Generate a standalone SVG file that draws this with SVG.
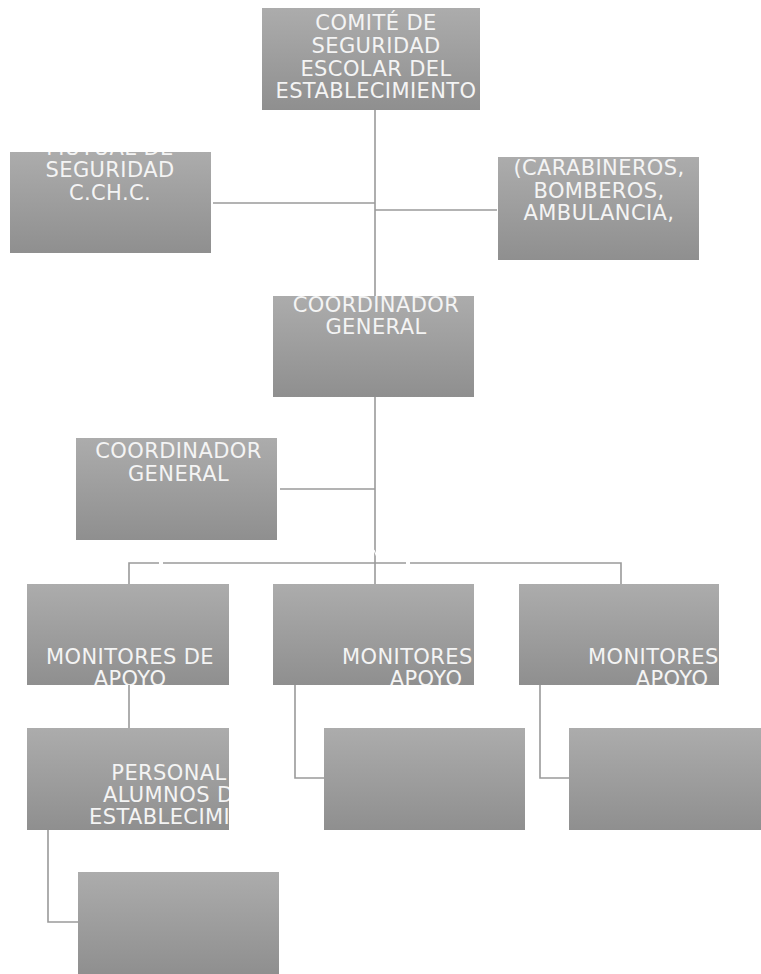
<svg xmlns="http://www.w3.org/2000/svg" width="761" height="974" viewBox="0 0 761 974">
<style>
.box{fill:url(#g)}
.t{font-family:"DejaVu Sans","Verdana",sans-serif;font-size:21px;letter-spacing:0.4px;fill:#f4f4f4;text-anchor:middle}
.ts{font-family:"DejaVu Sans","Verdana",sans-serif;font-size:21px;letter-spacing:0.4px;fill:#f4f4f4;text-anchor:start}
.c{stroke:#9a9a9a;stroke-width:1.6;fill:none}
</style>
<defs>
<linearGradient id="g" x1="0" y1="0" x2="0" y2="1">
<stop offset="0" stop-color="#acacac"/>
<stop offset="1" stop-color="#8f8f8f"/>
</linearGradient>
<clipPath id="c1"><rect x="262" y="8" width="218" height="102"/></clipPath>
<clipPath id="c2"><rect x="10" y="152" width="201" height="101"/></clipPath>
<clipPath id="c3"><rect x="498" y="157" width="201" height="103"/></clipPath>
<clipPath id="c4"><rect x="273" y="296" width="201" height="101"/></clipPath>
<clipPath id="c5"><rect x="76" y="438" width="201" height="102"/></clipPath>
<clipPath id="c6"><rect x="27" y="584" width="202" height="101"/></clipPath>
<clipPath id="c7"><rect x="273" y="584" width="201" height="101"/></clipPath>
<clipPath id="c8"><rect x="519" y="584" width="200" height="101"/></clipPath>
<clipPath id="c9"><rect x="27" y="728" width="202" height="102"/></clipPath>
</defs>
<rect width="761" height="974" fill="#ffffff"/>
<g id="connectors">
<line class="c" x1="375" y1="110" x2="375" y2="296"/>
<line class="c" x1="213" y1="203" x2="375" y2="203"/>
<line class="c" x1="375" y1="210" x2="497" y2="210"/>
<line class="c" x1="375" y1="397" x2="375" y2="584"/>
<line class="c" x1="280" y1="489" x2="375" y2="489"/>
<polyline class="c" points="129,584 129,563 159,563"/>
<line class="c" x1="163" y1="563" x2="406" y2="563"/>
<polyline class="c" points="410,563 621,563 621,584"/>
<line x1="374" y1="550" x2="377" y2="557" stroke="#ffffff" stroke-width="1.2"/>
<line class="c" x1="129" y1="685" x2="129" y2="728"/>
<polyline class="c" points="295,685 295,778 324,778"/>
<polyline class="c" points="540,685 540,778 569,778"/>
<polyline class="c" points="48,830 48,922 78,922"/>
</g>
<g id="n1">
<rect class="box" x="262" y="8" width="218" height="102"/>
<g clip-path="url(#c1)">
<text class="t" x="376" y="30">COMITÉ DE</text>
<text class="t" x="376" y="53">SEGURIDAD</text>
<text class="t" x="376" y="75.5">ESCOLAR DEL</text>
<text class="t" x="376" y="98">ESTABLECIMIENTO</text>
</g>
</g>
<g id="n2">
<rect class="box" x="10" y="152" width="201" height="101"/>
<g clip-path="url(#c2)">
<text class="t" x="110" y="154.5">MUTUAL  DE</text>
<text class="t" x="110" y="177">SEGURIDAD</text>
<text class="t" x="110" y="199.5">C.CH.C.</text>
</g>
</g>
<g id="n3">
<rect class="box" x="498" y="157" width="201" height="103"/>
<g clip-path="url(#c3)">
<text class="t" x="599" y="175">(CARABINEROS,</text>
<text class="t" x="599" y="197.5">BOMBEROS,</text>
<text class="t" x="599" y="220">AMBULANCIA,</text>
</g>
</g>
<g id="n4">
<rect class="box" x="273" y="296" width="201" height="101"/>
<g clip-path="url(#c4)">
<text class="t" x="376" y="311.5">COORDINADOR</text>
<text class="t" x="376" y="334">GENERAL</text>
</g>
</g>
<g id="n5">
<rect class="box" x="76" y="438" width="201" height="102"/>
<g clip-path="url(#c5)">
<text class="t" x="178.5" y="458">COORDINADOR</text>
<text class="t" x="178.5" y="480.5">GENERAL</text>
</g>
</g>
<g id="n6">
<rect class="box" x="27" y="584" width="202" height="101"/>
<g clip-path="url(#c6)">
<text class="t" x="130" y="663.5">MONITORES DE</text>
<text class="t" x="130" y="686">APOYO</text>
</g>
</g>
<g id="n7">
<rect class="box" x="273" y="584" width="201" height="101"/>
<g clip-path="url(#c7)">
<text class="t" x="426" y="663.5">MONITORES DE</text>
<text class="t" x="426" y="686">APOYO</text>
</g>
</g>
<g id="n8">
<rect class="box" x="519" y="584" width="200" height="101"/>
<g clip-path="url(#c8)">
<text class="t" x="672" y="663.5">MONITORES DE</text>
<text class="t" x="672" y="686">APOYO</text>
</g>
</g>
<g id="n9">
<rect class="box" x="27" y="728" width="202" height="102"/>
<g clip-path="url(#c9)">
<text class="t" x="169" y="779.5">PERSONAL</text>
<text class="ts" x="103" y="801.5">ALUMNOS DEL</text>
<text class="ts" x="89" y="823.5">ESTABLECIMIENTO</text>
</g>
</g>
<g id="n10">
<rect class="box" x="324" y="728" width="201" height="102"/>
</g>
<g id="n11">
<rect class="box" x="569" y="728" width="192" height="102"/>
</g>
<g id="n12">
<rect class="box" x="78" y="872" width="201" height="102"/>
</g>
</svg>
